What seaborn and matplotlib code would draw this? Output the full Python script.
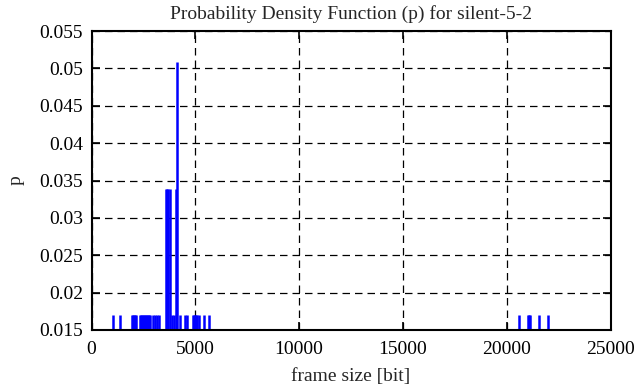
import matplotlib
matplotlib.use("Agg")
import matplotlib.pyplot as plt
import seaborn as sns
import pandas as pd

# frame sizes [bit] and probabilities (count / 59)
sizes_1 = [1013, 1351, 1930, 1980, 2027, 2075, 2123, 2316, 2365, 2413, 2460,
           2510, 2558, 2606, 2655, 2703, 2750, 2799, 2944, 3065, 3161, 3258,
           3861, 3958, 4247, 4488, 4585, 4874, 4920, 4971, 5020, 5067, 5164,
           5429, 5671, 20607, 21017, 21065, 21114, 21572, 22006]
sizes_2 = [3571, 3620, 3668, 3764, 4054]
sizes_3 = [4126]
N = 59

df = pd.DataFrame({
    "size": sizes_1 + sizes_2 + sizes_3,
    "p": [1 / N] * len(sizes_1) + [2 / N] * len(sizes_2) + [3 / N] * len(sizes_3),
})

sns.set_style("ticks")
plt.rcParams["font.family"] = ["Liberation Serif", "DejaVu Serif"]
FS = 14

fig = plt.figure(figsize=(6.36, 3.87), dpi=100)
ax = fig.add_axes([91.5 / 636, 1 - 330 / 387, 519 / 636, 299 / 387])

ax.vlines(df["size"], 0, df["p"], color="#0000ff", linewidth=1.8)

ax.set_xlim(0, 25000)
ax.set_ylim(0.015, 0.055)
ax.set_xticks([0, 5000, 10000, 15000, 20000, 25000])
ax.set_yticks([0.015, 0.02, 0.025, 0.03, 0.035, 0.04, 0.045, 0.05, 0.055])
ax.set_yticklabels(["0.015", "0.02", "0.025", "0.03", "0.035", "0.04", "0.045", "0.05", "0.055"])
ax.grid(True, color="black", linestyle=(0, (6, 4)), linewidth=0.9)
ax.set_axisbelow(True)
ax.tick_params(direction="in", top=True, right=True, length=6, width=1.2,
               labelsize=FS, colors="black")
ax.tick_params(axis="x", pad=8)
ax.tick_params(axis="y", pad=6)
for s in ax.spines.values():
    s.set_linewidth(1.5)
    s.set_color("black")

ax.set_title("Probability Density Function (p) for silent-5-2", fontsize=FS, pad=9)
ax.set_xlabel("frame size [bit]", fontsize=FS, labelpad=7)
ax.set_ylabel("p", fontsize=FS, labelpad=11)

fig.savefig("out.png", dpi=100)
